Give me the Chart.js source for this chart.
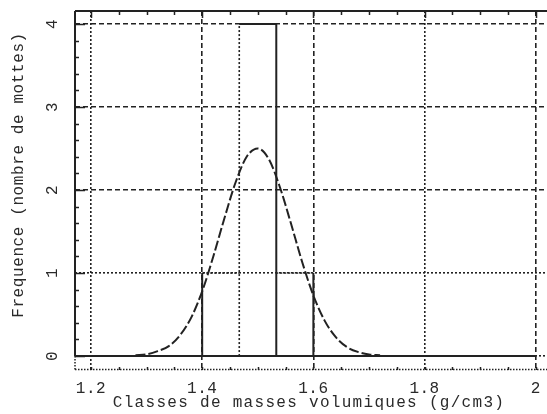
<!DOCTYPE html>
<html>
<head>
<meta charset="utf-8">
<script src="https://cdn.jsdelivr.net/npm/chart.js@4"></script>
<style>
  html, body { margin: 0; padding: 0; background: #fff; }
  #wrap { width: 547px; height: 414px; }
</style>
</head>
<body>
<div id="wrap"><canvas id="chartHisto" width="547" height="414"></canvas></div>
<script>
// Histogramme des masses volumiques des mottes + courbe normale ajustée

// classes (bornes) et effectifs
const binEdges = [1.4, 1.4667, 1.5333, 1.6];
const binCounts = [1, 4, 1];

// courbe normale ajustée (lue point par point)
const curveX = [1.28, 1.30, 1.32, 1.34, 1.36, 1.38, 1.40, 1.42, 1.44, 1.46, 1.48, 1.50,
                1.52, 1.54, 1.56, 1.58, 1.60, 1.62, 1.64, 1.66, 1.68, 1.70, 1.72];
const curveY = [0.01, 0.02, 0.06, 0.12, 0.25, 0.46, 0.78, 1.20, 1.66, 2.09, 2.40, 2.50,
                2.37, 2.03, 1.59, 1.13, 0.73, 0.43, 0.23, 0.11, 0.05, 0.02, 0.01];

// ligne de base de l'histogramme
const baseX = [1.17, 2.0];

const xTicks = [1.2, 1.4, 1.6, 1.8, 2];
const xTickLabels = ['1.2', '1.4', '1.6', '1.8', '2'];
const yTicks = [0, 1, 2, 3, 4];
const yTickLabels = ['0', '1', '2', '3', '4'];

const xTitle = 'Classes de masses volumiques (g/cm3)';
const yTitle = 'Frequence (nombre de mottes)';

// styles de trait
const INK = '#222';
const DASH = [5, 3];
const DOT = [2, 2];
const xGridDash = { 1.2: DOT, 1.4: DASH, 1.6: DASH, 1.8: DOT, 2: DASH };
const yGridDash = { 0: DOT, 1: DOT, 2: DASH, 3: DASH, 4: DASH };
const edgeDash = [[], DOT, [], []];
const topDash = [DOT, [], DOT];
const FONT = '"Liberation Mono", "DejaVu Sans Mono", monospace';

// contours des classes : un segment par bord
function histoDatasets() {
    const segs = [];
    binEdges.forEach((x, j) => {
        const h = Math.max(binCounts[j - 1] || 0, binCounts[j] || 0);
        segs.push({ pts: [{ x: x, y: 0 }, { x: x, y: h }], dash: edgeDash[j], w: edgeDash[j].length ? 1.6 : 2 });
    });
    binCounts.forEach((c, i) => {
        segs.push({ pts: [{ x: binEdges[i], y: c }, { x: binEdges[i + 1], y: c }], dash: topDash[i], w: topDash[i].length ? 1.5 : 2 });
    });
    return segs.map(s => ({
        type: 'line',
        data: s.pts,
        borderColor: INK,
        borderWidth: s.w,
        borderDash: s.dash,
        pointRadius: 0,
        fill: false
    }));
}

const decor = {
    id: 'decor',
    afterDatasetsDraw(chart) {
        const { ctx, chartArea: a, scales: { x, y } } = chart;
        const y0 = y.getPixelForValue(0);
        ctx.save();
        ctx.strokeStyle = INK;
        ctx.lineWidth = 2;

        // axe gauche : plein au-dessus de 0, pointillé en dessous
        ctx.beginPath();
        ctx.moveTo(a.left, a.top); ctx.lineTo(a.left, y0);
        ctx.moveTo(a.left, a.top); ctx.lineTo(a.right, a.top);
        ctx.stroke();
        ctx.setLineDash([1.5, 1.5]);
        ctx.lineWidth = 1.5;
        ctx.beginPath();
        ctx.moveTo(a.left, y0); ctx.lineTo(a.left, a.bottom);
        ctx.moveTo(a.left, a.bottom - 0.5); ctx.lineTo(a.right, a.bottom - 0.5);
        ctx.stroke();
        ctx.setLineDash([]);

        // graduations de l'axe y (0.2)
        ctx.lineWidth = 1.5;
        ctx.beginPath();
        for (let k = 0; k <= 20; k++) {
            const py = Math.round(y.getPixelForValue(k / 5)) + 0.5;
            const len = k % 5 === 0 ? 10 : 4;
            ctx.moveTo(a.left, py); ctx.lineTo(a.left + len, py);
        }
        // graduations haut / bas (0.05)
        for (let k = 0; k <= 16; k++) {
            const px = Math.round(x.getPixelForValue(1.2 + k * 0.05)) + 0.5;
            const len = k % 4 === 0 ? 7 : 4;
            ctx.moveTo(px, a.top); ctx.lineTo(px, a.top + len);
            ctx.moveTo(px, a.bottom); ctx.lineTo(px, a.bottom - 3);
        }
        ctx.stroke();
        ctx.restore();
    },
    afterDraw(chart) {
        const { ctx, scales: { x, y } } = chart;
        ctx.save();
        ctx.fillStyle = '#2a2a2a';
        ctx.font = '16px ' + FONT;

        // valeurs de l'axe x
        ctx.textAlign = 'center';
        ctx.textBaseline = 'alphabetic';
        ctx.letterSpacing = '0.5px';
        xTicks.forEach((v, i) => ctx.fillText(xTickLabels[i], x.getPixelForValue(v), 393));

        // valeurs de l'axe y (tournées)
        ctx.textBaseline = 'middle';
        yTicks.forEach((v, i) => {
            ctx.save();
            ctx.translate(53, y.getPixelForValue(v));
            ctx.rotate(-Math.PI / 2);
            ctx.fillText(yTickLabels[i], 0, 0);
            ctx.restore();
        });

        // titres
        ctx.letterSpacing = '1.3px';
        ctx.textBaseline = 'alphabetic';
        ctx.fillText(xTitle, 309, 407);
        ctx.letterSpacing = '0.6px';
        ctx.translate(19, 175);
        ctx.rotate(-Math.PI / 2);
        ctx.textBaseline = 'middle';
        ctx.fillText(yTitle, 0, 0);
        ctx.restore();
    }
};

const datasets = [
    {
        type: 'line',
        data: baseX.map(v => ({ x: v, y: 0 })),
        borderColor: INK,
        borderWidth: 2,
        pointRadius: 0
    },
    ...histoDatasets(),
    {
        type: 'line',
        data: curveX.map((v, i) => ({ x: v, y: curveY[i] })),
        borderColor: INK,
        borderWidth: 2,
        borderDash: [10, 3],
        cubicInterpolationMode: 'monotone',
        pointRadius: 0
    }
];

new Chart(document.getElementById('chartHisto'), {
    type: 'line',
    data: { datasets },
    options: {
        responsive: false,
        animation: false,
        layout: { padding: { left: 75, top: 11, right: 0, bottom: 44 } },
        plugins: { legend: { display: false }, tooltip: { enabled: false } },
        scales: {
            x: {
                type: 'linear',
                min: 1.1712,
                max: 2.0203,
                afterBuildTicks: s => { s.ticks = xTicks.map(v => ({ value: v })); },
                ticks: { display: false },
                grid: { drawTicks: false, color: '#222', lineWidth: 1.6 },
                border: { display: false, dash: c => (c.tick ? xGridDash[c.tick.value] : []) || [] }
            },
            y: {
                type: 'linear',
                min: -0.168,
                max: 4.156,
                afterBuildTicks: s => { s.ticks = yTicks.map(v => ({ value: v })); },
                ticks: { display: false },
                grid: { drawTicks: false, color: '#222', lineWidth: 1.6 },
                border: { display: false, dash: c => (c.tick ? yGridDash[c.tick.value] : []) || [] }
            }
        }
    },
    plugins: [decor]
});
</script>
</body>
</html>
